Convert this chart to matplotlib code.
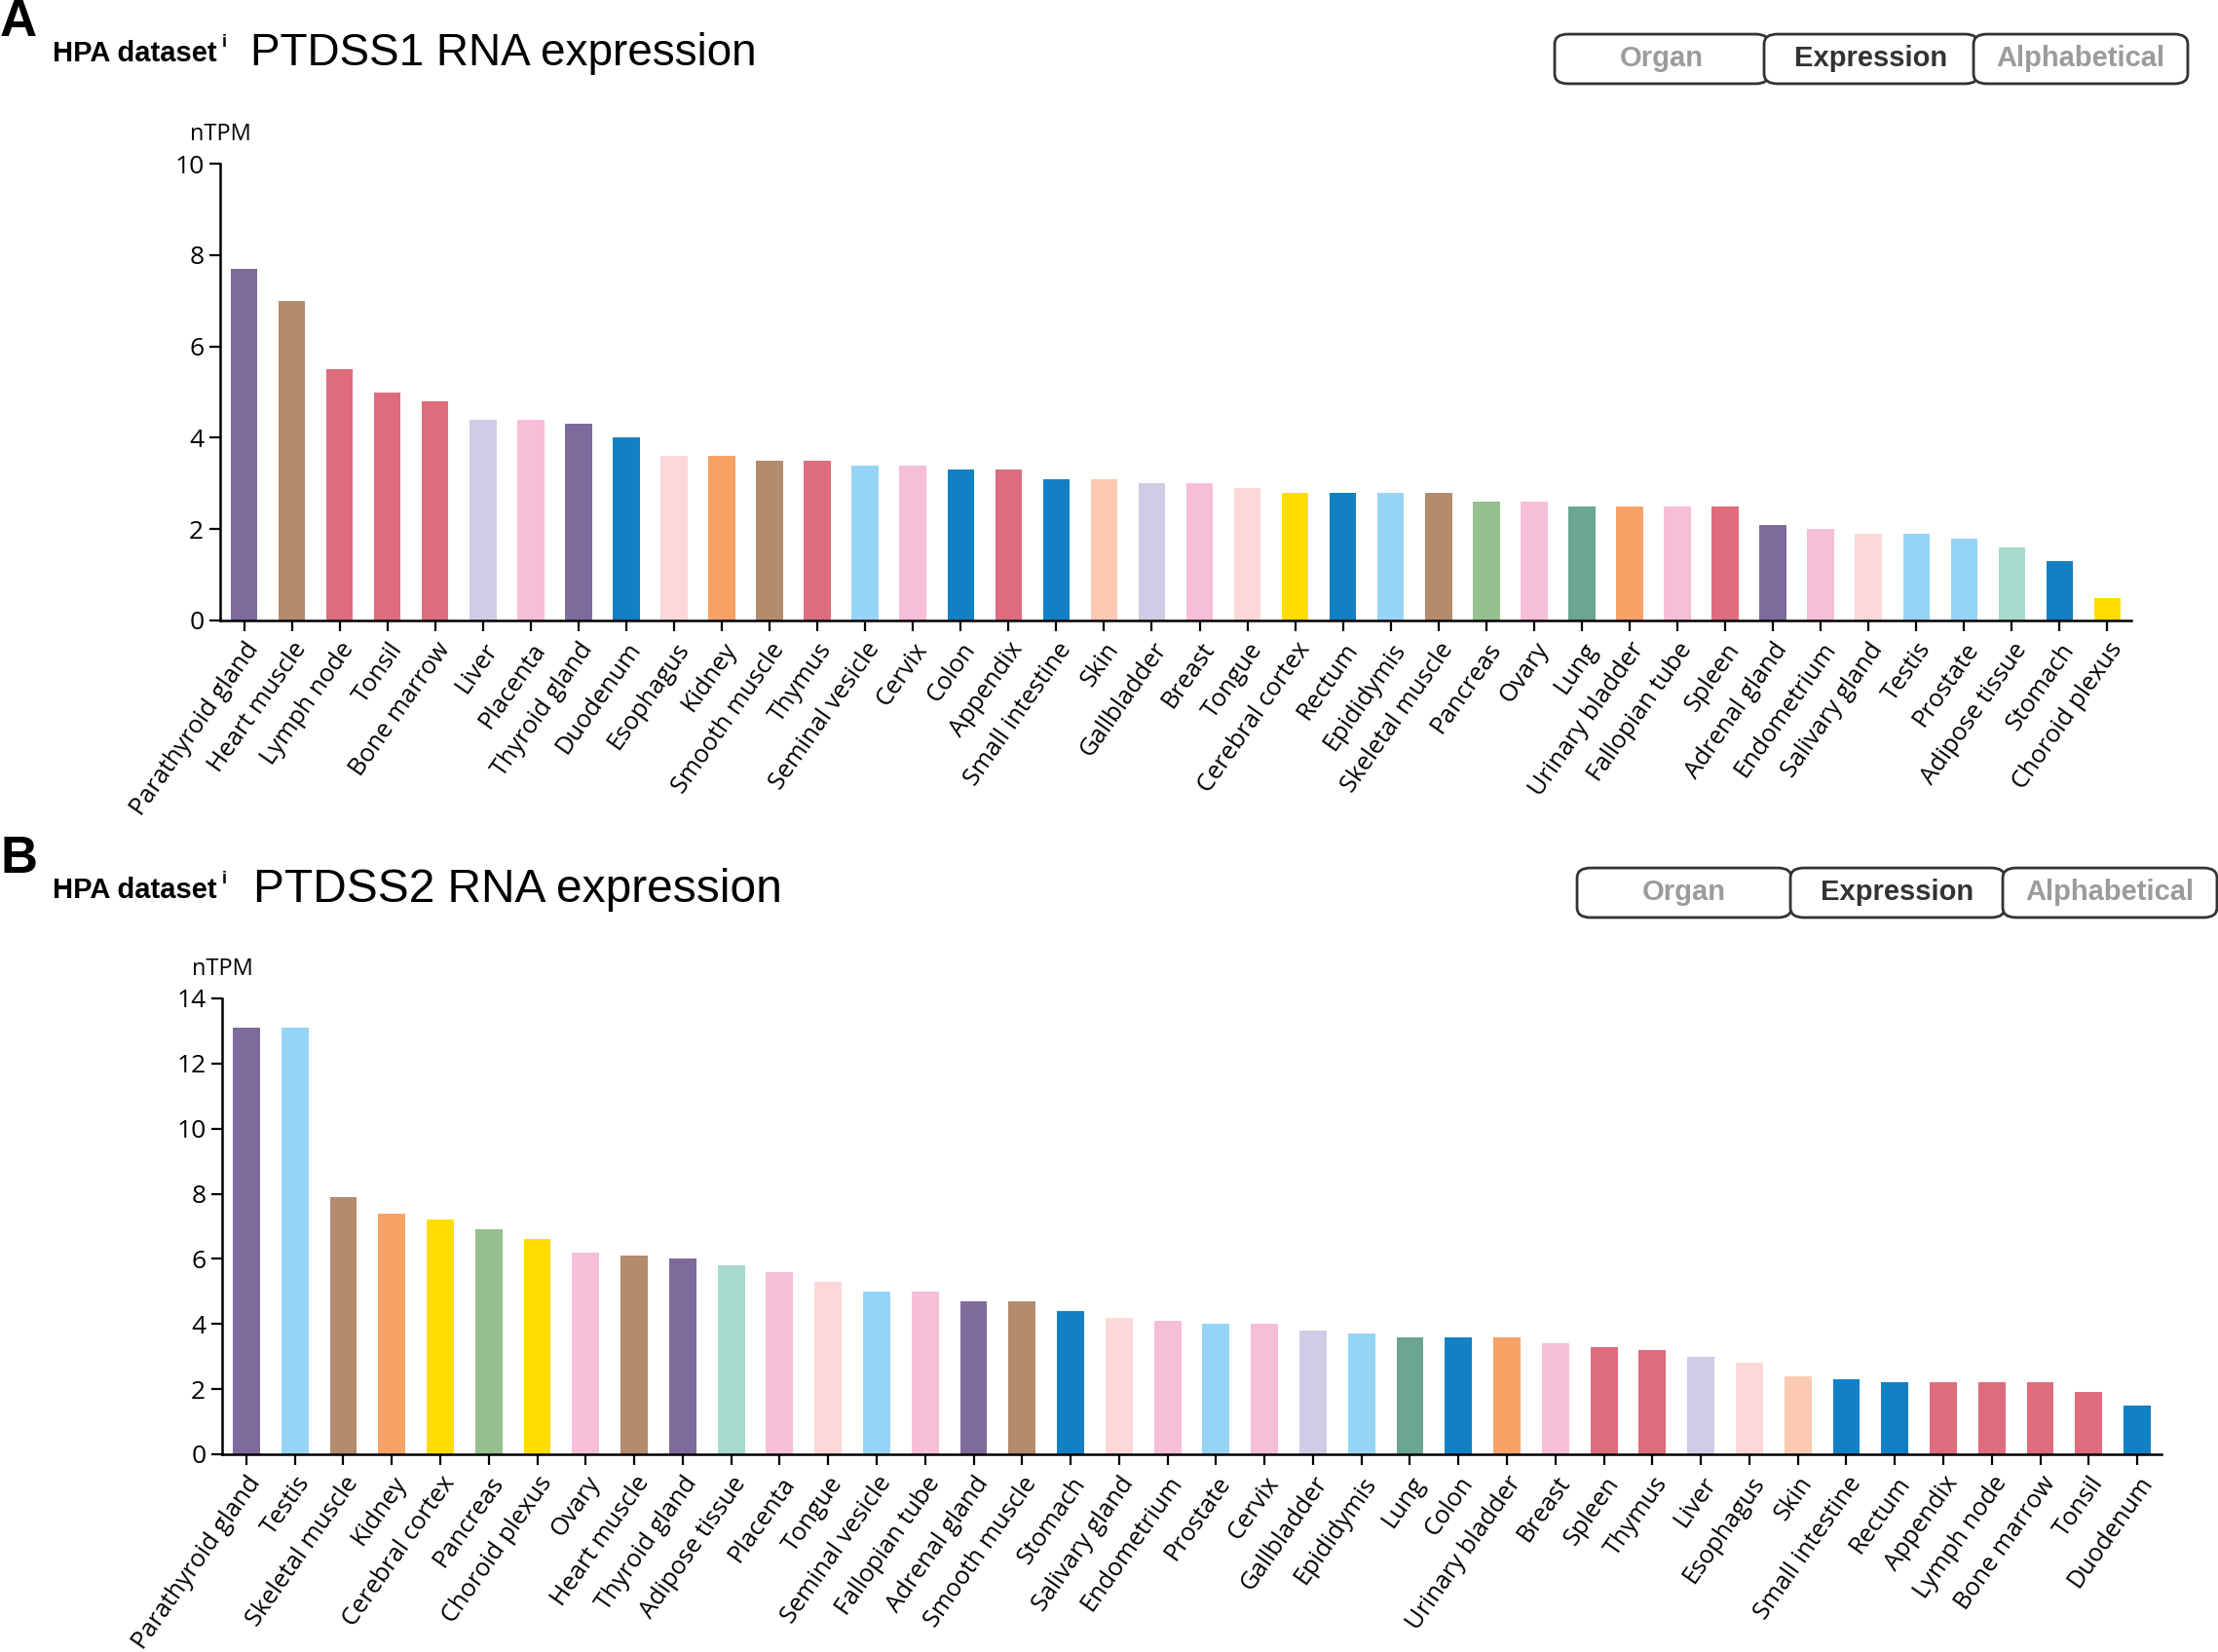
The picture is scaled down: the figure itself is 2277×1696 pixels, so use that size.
import matplotlib.pyplot as plt
from matplotlib.patches import FancyBboxPatch

W, H = 2277, 1696

# tissue group colours
ENDO = "#7F6A9C"
MUSC = "#B38B6D"
LYMPH = "#DE6C7D"
LIVER = "#D1CBE5"
FEM = "#F7BED7"
GI = "#1280C4"
PROX = "#FCD8D8"
KIDN = "#F7A267"
MALE = "#96D4F5"
SKIN = "#FCCAB3"
BRAIN = "#FFDD00"
PANC = "#96C08E"
LUNG = "#6AA692"
ADIP = "#A7DACD"

tissue_color = {
    "Parathyroid gland": ENDO, "Thyroid gland": ENDO, "Adrenal gland": ENDO,
    "Heart muscle": MUSC, "Smooth muscle": MUSC, "Skeletal muscle": MUSC,
    "Lymph node": LYMPH, "Tonsil": LYMPH, "Bone marrow": LYMPH, "Thymus": LYMPH,
    "Appendix": LYMPH, "Spleen": LYMPH,
    "Liver": LIVER, "Gallbladder": LIVER,
    "Placenta": FEM, "Cervix": FEM, "Breast": FEM, "Ovary": FEM,
    "Fallopian tube": FEM, "Endometrium": FEM,
    "Duodenum": GI, "Colon": GI, "Small intestine": GI, "Rectum": GI, "Stomach": GI,
    "Esophagus": PROX, "Tongue": PROX, "Salivary gland": PROX,
    "Kidney": KIDN, "Urinary bladder": KIDN,
    "Seminal vesicle": MALE, "Epididymis": MALE, "Testis": MALE, "Prostate": MALE,
    "Skin": SKIN, "Cerebral cortex": BRAIN, "Choroid plexus": BRAIN,
    "Pancreas": PANC, "Lung": LUNG, "Adipose tissue": ADIP,
}

ptdss1_tissues = [
    "Parathyroid gland", "Heart muscle", "Lymph node", "Tonsil", "Bone marrow",
    "Liver", "Placenta", "Thyroid gland", "Duodenum", "Esophagus", "Kidney",
    "Smooth muscle", "Thymus", "Seminal vesicle", "Cervix", "Colon", "Appendix",
    "Small intestine", "Skin", "Gallbladder", "Breast", "Tongue", "Cerebral cortex",
    "Rectum", "Epididymis", "Skeletal muscle", "Pancreas", "Ovary", "Lung",
    "Urinary bladder", "Fallopian tube", "Spleen", "Adrenal gland", "Endometrium",
    "Salivary gland", "Testis", "Prostate", "Adipose tissue", "Stomach",
    "Choroid plexus",
]
ptdss1_ntpm = [
    7.7, 7.0, 5.5, 5.0, 4.8, 4.4, 4.4, 4.3, 4.0, 3.6, 3.6, 3.5, 3.5, 3.4, 3.4,
    3.3, 3.3, 3.1, 3.1, 3.0, 3.0, 2.9, 2.8, 2.8, 2.8, 2.8, 2.6, 2.6, 2.5, 2.5,
    2.5, 2.5, 2.1, 2.0, 1.9, 1.9, 1.8, 1.6, 1.3, 0.5,
]

ptdss2_tissues = [
    "Parathyroid gland", "Testis", "Skeletal muscle", "Kidney", "Cerebral cortex",
    "Pancreas", "Choroid plexus", "Ovary", "Heart muscle", "Thyroid gland",
    "Adipose tissue", "Placenta", "Tongue", "Seminal vesicle", "Fallopian tube",
    "Adrenal gland", "Smooth muscle", "Stomach", "Salivary gland", "Endometrium",
    "Prostate", "Cervix", "Gallbladder", "Epididymis", "Lung", "Colon",
    "Urinary bladder", "Breast", "Spleen", "Thymus", "Liver", "Esophagus", "Skin",
    "Small intestine", "Rectum", "Appendix", "Lymph node", "Bone marrow", "Tonsil",
    "Duodenum",
]
ptdss2_ntpm = [
    13.1, 13.1, 7.9, 7.4, 7.2, 6.9, 6.6, 6.2, 6.1, 6.0, 5.8, 5.6, 5.3, 5.0, 5.0,
    4.7, 4.7, 4.4, 4.2, 4.1, 4.0, 4.0, 3.8, 3.7, 3.6, 3.6, 3.6, 3.4, 3.3, 3.2,
    3.0, 2.8, 2.4, 2.3, 2.2, 2.2, 2.2, 2.2, 1.9, 1.5,
]

buttons = ["Organ", "Expression", "Alphabetical"]

TXT = ["Open Sans", "DejaVu Sans"]
HEAD = ["Liberation Sans", "DejaVu Sans"]


def fx(px):
    return px / W


def fy(py):
    return 1 - py / H


def draw_panel(fig, letter, gene, tissues, values, ymax, box, head_y,
               title_x, title_size, btn_x, btn_y):
    left, top, right, bottom = box
    ax = fig.add_axes([fx(left), fy(bottom), fx(right - left), (bottom - top) / H])
    xs = range(len(tissues))
    ax.bar(xs, values, width=0.56, color=[tissue_color[t] for t in tissues])
    ax.set_xlim(-0.5, len(tissues) - 0.5)
    ax.set_ylim(0, ymax)
    ax.set_yticks(range(0, ymax + 1, 2))
    ax.set_xticks(list(xs))
    ax.set_xticklabels(tissues, rotation=55, ha="right", va="top",
                       rotation_mode="anchor", family=TXT, fontsize=18.3)
    for lab in ax.get_yticklabels():
        lab.set_family(TXT)
        lab.set_fontsize(19)
    ax.tick_params(axis="both", width=1.6, length=8, color="black")
    ax.tick_params(axis="x", pad=5)
    ax.tick_params(axis="y", pad=4)
    for s in ["top", "right"]:
        ax.spines[s].set_visible(False)
    for s in ["left", "bottom"]:
        ax.spines[s].set_linewidth(1.8)

    fig.text(fx(left), fy(top - 30), "nTPM", ha="center", va="center",
             family=TXT, fontsize=17)

    fig.text(fx(0), fy(head_y - 32), letter, ha="left", va="center",
             family=HEAD, fontsize=38, fontweight="bold")
    fig.text(fx(54), fy(head_y), "HPA dataset", ha="left", va="center",
             family=HEAD, fontsize=21, fontweight="bold")
    fig.text(fx(228), fy(head_y - 11), "i", ha="left", va="center",
             family=HEAD, fontsize=13, fontweight="bold")
    fig.text(fx(title_x), fy(head_y), gene + " RNA expression", ha="left",
             va="center", family=HEAD, fontsize=title_size)

    bw, bh = 212, 47
    for i, name in enumerate(buttons):
        x0 = btn_x[i]
        patch = FancyBboxPatch((fx(x0 + 4), fy(btn_y + bh - 4)), fx(bw - 8), (bh - 8) / H,
                               boxstyle="round,pad=0.0035,rounding_size=0.006",
                               transform=fig.transFigure, facecolor="white",
                               edgecolor="#333333", linewidth=2.0)
        fig.add_artist(patch)
        active = name == "Expression"
        fig.text(fx(x0 + bw / 2), fy(btn_y + bh / 2), name, ha="center", va="center",
                 family=HEAD, fontsize=21, fontweight="bold",
                 color="#333333" if active else "#9b9b9b")
    return ax


fig = plt.figure(figsize=(W / 100, H / 100), dpi=100, facecolor="white")

draw_panel(fig, "A", "PTDSS1", ptdss1_tissues, ptdss1_ntpm, 10,
           (226, 168, 2188, 637), 55, 257, 33, [1600, 1815, 2030], 37)
draw_panel(fig, "B", "PTDSS2", ptdss2_tissues, ptdss2_ntpm, 14,
           (228, 1025, 2219, 1493), 914, 260, 34.5, [1623, 1842, 2060], 893)

fig.savefig("out.png", dpi=100, facecolor="white")
